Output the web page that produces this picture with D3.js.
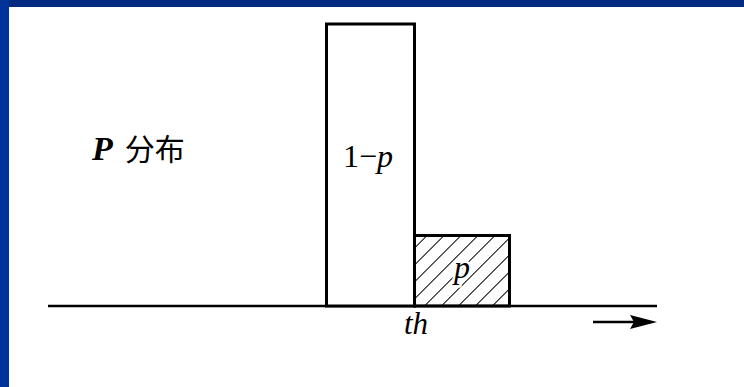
<!DOCTYPE html>
<html>
<head>
<meta charset="utf-8">
<script src="https://cdn.jsdelivr.net/npm/d3@7"></script>
<style>
  html, body { margin: 0; padding: 0; background: #fff; }
  svg { display: block; }
  .serif { font-family: "Liberation Serif", "DejaVu Serif", serif; }
</style>
</head>
<body>
<div id="chart"></div>
<script>
// P distribution: two blocks around the threshold th
var barNames = ["1-p", "p"];
var barStarts = [-1, 0];   // in units of block width, th = 0
var barEnds = [0, 1];
var barValues = [0.8, 0.2];
var barLabels = ["1−p", "p"];
var axisLabel = "th";

var W = 744, H = 387;

var svg = d3.select("#chart").append("svg")
  .attr("width", W)
  .attr("height", H);

// blue frame, top and left only
svg.append("rect").attr("x", 0).attr("y", 0).attr("width", W).attr("height", 7).attr("fill", "#002b80");
svg.append("rect").attr("x", 0).attr("y", 0).attr("width", 9).attr("height", H).attr("fill", "#00339a");

var x = d3.scaleLinear().domain([-1, 0, 1]).range([326.5, 414.5, 509.5]);
var y = d3.scaleLinear().domain([0, 0.8]).range([306, 24]);

// hatch pattern
var defs = svg.append("defs");
defs.append("pattern")
  .attr("id", "hatch")
  .attr("patternUnits", "userSpaceOnUse")
  .attr("width", 12)
  .attr("height", 12)
  .attr("patternTransform", "rotate(45)")
  .append("line")
  .attr("x1", 0).attr("y1", 0)
  .attr("x2", 0).attr("y2", 12)
  .attr("stroke", "#000")
  .attr("stroke-width", 2);

// baseline
svg.append("line")
  .attr("x1", 48).attr("x2", 657)
  .attr("y1", y(0)).attr("y2", y(0))
  .attr("stroke", "#000")
  .attr("stroke-width", 2.5);

svg.selectAll(".bar")
  .data(barNames)
  .join("rect")
  .attr("class", "bar")
  .attr("x", function (d, i) { return x(barStarts[i]); })
  .attr("y", function (d, i) { return y(barValues[i]); })
  .attr("width", function (d, i) { return x(barEnds[i]) - x(barStarts[i]); })
  .attr("height", function (d, i) { return y(0) - y(barValues[i]); })
  .attr("fill", function (d, i) { return i === 1 ? "url(#hatch)" : "#fff"; })
  .attr("stroke", "#000")
  .attr("stroke-width", 3);

// bar labels
var t1 = svg.append("text")
  .attr("class", "serif")
  .attr("x", 343)
  .attr("y", 167)
  .attr("font-size", 32);
t1.append("tspan").text("1−");
t1.append("tspan").attr("font-style", "italic").text("p");

svg.append("text")
  .attr("class", "serif")
  .attr("x", 462)
  .attr("y", 278)
  .attr("text-anchor", "middle")
  .attr("font-style", "italic")
  .attr("font-size", 32)
  .attr("stroke", "#fff")
  .attr("stroke-width", 5)
  .attr("paint-order", "stroke")
  .text(barLabels[1]);

// threshold label
svg.append("text")
  .attr("class", "serif")
  .attr("x", 416)
  .attr("y", 334)
  .attr("text-anchor", "middle")
  .attr("font-style", "italic")
  .attr("font-size", 31)
  .text(axisLabel);

// arrow
svg.append("line")
  .attr("x1", 593).attr("x2", 636)
  .attr("y1", 322).attr("y2", 322)
  .attr("stroke", "#000")
  .attr("stroke-width", 2.5);
svg.append("path")
  .attr("d", "M630,315 L657,322 L630,329 L634,322 Z")
  .attr("fill", "#000");

// title
var title = svg.append("text")
  .attr("x", 92)
  .attr("y", 160);
title.append("tspan")
  .attr("class", "serif")
  .attr("font-style", "italic")
  .attr("font-weight", "bold")
  .attr("font-size", 34)
  .text("P");
title.append("tspan")
  .attr("dx", 12)
  .attr("font-family", "'Noto Sans CJK SC', sans-serif")
  .attr("font-size", 30)
  .text("分布");
</script>
</body>
</html>
